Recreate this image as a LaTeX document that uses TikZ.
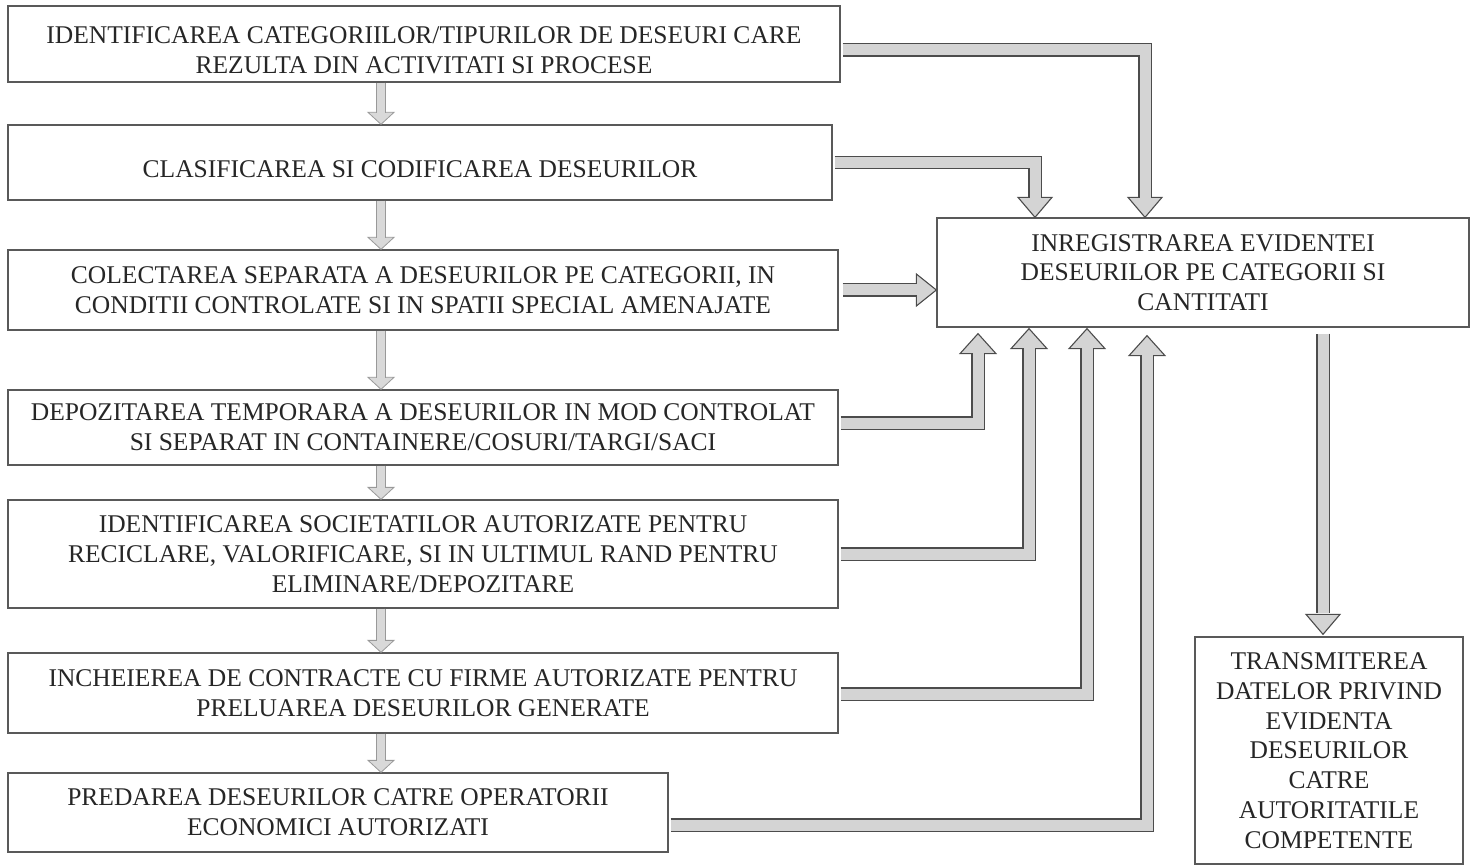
\documentclass[tikz,border=0pt]{standalone}
\usepackage{fontspec}
\setmainfont{Liberation Serif}
\begin{document}
\begin{tikzpicture}[x=1pt,y=-1pt,
  box/.style={draw=black!65, line width=1.3pt, align=center, inner sep=0pt,
    font=\fontsize{25.5}{29.8}\selectfont, text=black!85},
  shaft/.style={draw=black!70, line width=1.1pt, double=black!17, double distance=11pt, line join=miter},
  headst/.style={fill=black!17, draw=black!70, line width=1.1pt, line join=miter},
  sshaft/.style={draw=black!40, line width=0.8pt, double=black!15, double distance=8pt, line join=miter},
  sheadst/.style={fill=black!15, draw=black!40, line width=0.8pt, line join=miter},
  tipdown/.pic={\filldraw[headst] (0,0) -- (-17,-20) -- (17,-20) -- cycle;},
  tipup/.pic={\filldraw[headst] (0,0) -- (-18,20) -- (18,20) -- cycle;},
  tipright/.pic={\filldraw[headst] (0,0) -- (-20,-16) -- (-20,16) -- cycle;},
  stipdown/.pic={\filldraw[sheadst] (0,0) -- (-13,-12) -- (13,-12) -- cycle;},
]
\useasboundingbox (0,0) rectangle (1475,866);

% left column
\node[box, minimum width=832pt, minimum height=76pt] (b1) at (424,44)
  {\rule{0pt}{30pt}IDENTIFICAREA CATEGORIILOR/TIPURILOR DE DESEURI CARE\\REZULTA DIN ACTIVITATI SI PROCESE};
\node[box, minimum width=824pt, minimum height=75pt] (b2) at (420,162.5)
  {\rule{0pt}{30pt}CLASIFICAREA SI CODIFICAREA DESEURILOR};
\node[box, minimum width=830pt, minimum height=80pt] (b3) at (423,290)
  {COLECTAREA SEPARATA A DESEURILOR PE CATEGORII, IN\\CONDITII CONTROLATE SI IN SPATII SPECIAL AMENAJATE};
\node[box, minimum width=830pt, minimum height=75pt] (b4) at (423,427.5)
  {DEPOZITAREA TEMPORARA A DESEURILOR IN MOD CONTROLAT\\SI SEPARAT IN CONTAINERE/COSURI/TARGI/SACI};
\node[box, minimum width=830pt, minimum height=108pt] (b5) at (423,554)
  {IDENTIFICAREA SOCIETATILOR AUTORIZATE PENTRU\\RECICLARE, VALORIFICARE, SI IN ULTIMUL RAND PENTRU\\ELIMINARE/DEPOZITARE};
\node[box, minimum width=830pt, minimum height=80pt] (b6) at (423,693)
  {INCHEIEREA DE CONTRACTE CU FIRME AUTORIZATE PENTRU\\PRELUAREA DESEURILOR GENERATE};
\node[box, minimum width=660pt, minimum height=79pt] (b7) at (338,812.5)
  {PREDAREA DESEURILOR CATRE OPERATORII\\ECONOMICI AUTORIZATI};

% right column
\node[box, minimum width=532pt, minimum height=109pt] (R) at (1203,272.5)
  {INREGISTRAREA EVIDENTEI\\DESEURILOR PE CATEGORII SI\\CANTITATI};
\node[box, minimum width=268pt, minimum height=227pt] (T) at (1329,750.5)
  {TRANSMITEREA\\DATELOR PRIVIND\\EVIDENTA\\DESEURILOR\\CATRE\\AUTORITATILE\\COMPETENTE};

% lanes
\coordinate (A) at (381,0);
\coordinate (L1) at (1145,0);
\coordinate (L2) at (1035,0);
\coordinate (U1) at (978,0);
\coordinate (U2) at (1029,0);
\coordinate (U3) at (1087,0);
\coordinate (U4) at (1147,0);
\coordinate (D) at (1323,0);

% small arrows down the left column
\foreach \p/\q in {b1/b2, b2/b3, b3/b4, b4/b5, b5/b6, b6/b7}{
  \pic at (\q.north -| A) {stipdown};
  \draw[sshaft, shorten >=11pt] (\p.south -| A) -- (\q.north -| A);
}

% arrows into R from above
\pic at (R.north -| L1) {tipdown};
\draw[shaft, shorten >=19pt, shorten <=2pt] ([yshift=-6pt]b1.east) -| (R.north -| L1);
\pic at (R.north -| L2) {tipdown};
\draw[shaft, shorten >=19pt, shorten <=2pt] (b2.east) -| (R.north -| L2);

% arrow into R from the left
\pic at (R.west |- b3.east) {tipright};
\draw[shaft, shorten >=19pt, shorten <=4pt] (b3.east) -- (R.west |- b3.east);

% arrows into R from below
\pic at ([yshift=-6pt]R.south -| U1) {tipup};
\draw[shaft, shorten >=19pt, shorten <=2pt] ([yshift=4.5pt]b4.east) -| ([yshift=-6pt]R.south -| U1);
\pic at ([yshift=-1pt]R.south -| U2) {tipup};
\draw[shaft, shorten >=19pt, shorten <=2pt] (b5.east) -| ([yshift=-1pt]R.south -| U2);
\pic at ([yshift=-1pt]R.south -| U3) {tipup};
\draw[shaft, shorten >=19pt, shorten <=2pt] ([yshift=-1pt]b6.east) -| ([yshift=-1pt]R.south -| U3);
\pic at ([yshift=-8pt]R.south -| U4) {tipup};
\draw[shaft, shorten >=19pt, shorten <=2pt] ([yshift=-12.5pt]b7.east) -| ([yshift=-8pt]R.south -| U4);

% arrow from R to T
\pic at ([yshift=2pt]T.north -| D) {tipdown};
\draw[shaft, shorten >=21pt, shorten <=6pt] (R.south -| D) -- ([yshift=2pt]T.north -| D);
\end{tikzpicture}
\end{document}
